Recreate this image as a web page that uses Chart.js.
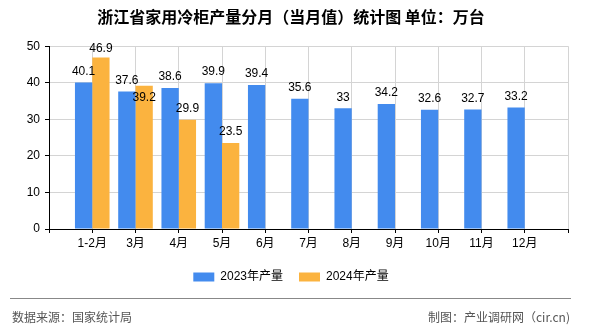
<!DOCTYPE html>
<html>
<head>
<meta charset="utf-8">
<script src="https://cdn.jsdelivr.net/npm/chart.js@4.4.1/dist/chart.umd.min.js"></script>
<style>
  html, body { margin: 0; padding: 0; background: #fff; }
  #wrap { position: relative; width: 590px; height: 330px; overflow: hidden; }
  #c { position: absolute; left: 0; top: 0; }
  #rule { position: absolute; left: 10px; top: 298px; width: 561px; height: 1px; background: #888; }
  .foot { position: absolute; top: 309px; line-height: 16px; font-size: 12px; color: #555;
          font-family: "Noto Sans CJK SC", "Liberation Sans", sans-serif; white-space: nowrap; }
  #src { left: 12px; }
  #by { right: 20px; }
</style>
</head>
<body>
<div id="wrap">
  <canvas id="c" width="590" height="330"></canvas>
  <div id="rule"></div>
  <div class="foot" id="src">数据来源：国家统计局</div>
  <div class="foot" id="by">制图：产业调研网（cir.cn)</div>
</div>
<script>
const months = ['1-2月', '3月', '4月', '5月', '6月', '7月', '8月', '9月', '10月', '11月', '12月'];
const prod2023 = [40.1, 37.6, 38.6, 39.9, 39.4, 35.6, 33, 34.2, 32.6, 32.7, 33.2];
const prod2024 = [46.9, 39.2, 29.9, 23.5, null, null, null, null, null, null, null];
const seriesNames = ['2023年产量', '2024年产量'];
const yTicks = [0, 10, 20, 30, 40, 50];
const titleText = '浙江省家用冷柜产量分月（当月值）统计图 单位：万台';

const FONT = '"Liberation Sans", "Noto Sans CJK SC", sans-serif';
const labels = [''].concat(months, ['']);
const pad = arr => [null].concat(arr, [null]);

const valueLabels = {
  id: 'valueLabels',
  afterDatasetsDraw(chart) {
    const ctx = chart.ctx;
    const placed = [];
    ctx.save();
    ctx.font = '12px ' + FONT;
    ctx.fillStyle = '#000';
    ctx.textAlign = 'center';
    ctx.textBaseline = 'middle';
    chart.data.datasets.forEach((ds, di) => {
      const meta = chart.getDatasetMeta(di);
      meta.data.forEach((bar, i) => {
        const v = ds.data[i];
        if (v === null || v === undefined) return;
        const txt = String(v);
        const w = ctx.measureText(txt).width;
        let y = bar.y - 11;
        if (y < chart.chartArea.top + 2) y = chart.chartArea.top + 2;
        const box = () => ({ l: bar.x - w / 2, r: bar.x + w / 2, t: y - 6, b: y + 6 });
        let moved = true, guard = 0;
        while (moved && guard < 5) {
          moved = false; guard++;
          const b = box();
          for (const p of placed) {
            if (b.l < p.r && b.r > p.l && b.t < p.b && b.b > p.t) {
              y = p.y + 17; moved = true; break;
            }
          }
        }
        const b = box(); b.y = y;
        placed.push(b);
        ctx.fillText(txt, bar.x, y);
      });
    });
    ctx.restore();
  }
};

new Chart(document.getElementById('c'), {
  type: 'bar',
  data: {
    labels: labels,
    datasets: [
      { label: seriesNames[0], data: pad(prod2023), backgroundColor: '#438BEE', borderWidth: 0,
        categoryPercentage: 0.8, barPercentage: 1.0 },
      { label: seriesNames[1], data: pad(prod2024), backgroundColor: '#FBB33F', borderWidth: 0,
        categoryPercentage: 0.8, barPercentage: 1.0 }
    ]
  },
  options: {
    responsive: false,
    animation: false,
    devicePixelRatio: 1,
    layout: { padding: { top: 7, left: 14, right: 22, bottom: 37 } },
    plugins: {
      title: {
        display: true, text: titleText, color: '#000',
        font: { size: 16, weight: 'bold', family: '"Noto Sans CJK SC", sans-serif' },
        padding: { top: 0, bottom: 20 }
      },
      legend: {
        position: 'bottom',
        labels: { boxWidth: 21, boxHeight: 9, padding: 16, color: '#000', font: { size: 12, family: FONT } }
      },
      tooltip: { enabled: false }
    },
    scales: {
      x: {
        offset: false,
        grid: { color: '#d4d4d4', tickColor: '#000', tickLength: 4, offset: false },
        border: { color: '#000', width: 1 },
        ticks: { color: '#000', font: { size: 12, family: FONT }, padding: 3, maxRotation: 0, autoSkip: false },
        afterFit(s) { s.height = 26; }
      },
      y: {
        min: 0, max: 50,
        afterBuildTicks(s) { s.ticks = yTicks.map(v => ({ value: v })); },
        grid: { color: '#d4d4d4', tickColor: '#000', tickLength: 4 },
        border: { color: '#000', width: 1 },
        ticks: { color: '#000', font: { size: 12, family: FONT }, padding: 5 },
        afterFit(s) { s.width = 35; }
      }
    }
  },
  plugins: [valueLabels]
});
</script>
</body>
</html>
